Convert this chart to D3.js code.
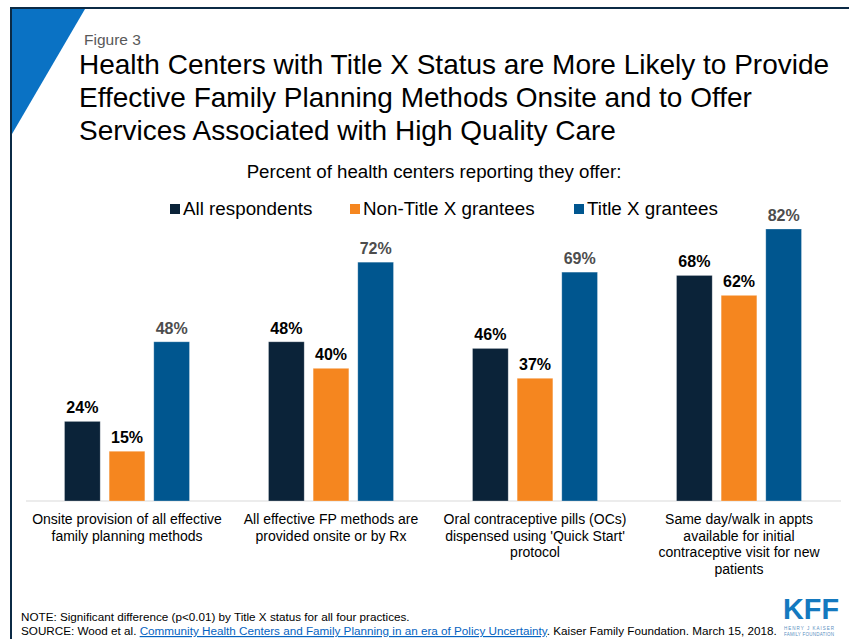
<!DOCTYPE html>
<html>
<head>
<meta charset="utf-8">
<script src="https://cdn.jsdelivr.net/npm/d3@7"></script>
<style>
  body { margin: 0; background: #fff; }
  svg { display: block; font-family: "Liberation Sans", Arial, sans-serif; }
</style>
</head>
<body>
<script>
// datos del gráfico
var categorias = [
  ["Onsite provision of all effective", "family planning methods"],
  ["All effective FP methods are", "provided onsite or by Rx"],
  ["Oral contraceptive pills (OCs)", "dispensed using 'Quick Start'", "protocol"],
  ["Same day/walk in appts", "available for initial", "contraceptive visit for new", "patients"]
];
var series = ["All respondents", "Non-Title X grantees", "Title X grantees"];
var todos = [24, 48, 46, 68];
var noTituloX = [15, 40, 37, 62];
var tituloX = [48, 72, 69, 82];
var valores = [todos, noTituloX, tituloX];

var w = 849, h = 639;
var colores = ["#0b2339", "#f5861f", "#00568f"];
var coloresEtiqueta = ["#000", "#000", "#4d4d4d"];

var svg = d3.select("body").append("svg").attr("width", w).attr("height", h);

// marco y triángulo
svg.append("path").attr("d", "M11,639 V8 H849").attr("fill", "none").attr("stroke", "#0b2a45").attr("stroke-width", 2);
svg.append("path").attr("d", "M12,9 L85,9 L12,134 Z").attr("fill", "#0a72c4");

svg.append("text").attr("x", 84).attr("y", 45).attr("font-size", 15.5).attr("fill", "#595959").text("Figure 3");

var titulo = ["Health Centers with Title X Status are More Likely to Provide",
  "Effective Family Planning Methods Onsite and to Offer",
  "Services Associated with High Quality Care"];
var tituloY = [74, 107, 140];
svg.append("text").attr("x", 79).attr("font-size", 28).attr("fill", "#000")
  .selectAll("tspan").data(titulo).enter().append("tspan")
  .attr("x", 79).attr("y", function (d, i) { return tituloY[i]; }).text(function (d) { return d; });

svg.append("text").attr("x", 434).attr("y", 178).attr("text-anchor", "middle").attr("font-size", 18.7)
  .text("Percent of health centers reporting they offer:");

// leyenda
var leyendaX = [170, 350, 574];
var leyenda = svg.append("g").attr("id", "legend");
series.forEach(function (s, i) {
  leyenda.append("rect").attr("x", leyendaX[i]).attr("y", 204).attr("width", 10).attr("height", 10).attr("fill", colores[i]);
  leyenda.append("text").attr("x", leyendaX[i] + 13).attr("y", 215).attr("font-size", 18.8).text(s);
});

// escalas
var x0 = d3.scaleBand().domain(d3.range(categorias.length)).range([25, 841]);
var x1 = d3.scaleBand().domain(d3.range(series.length)).range([0, 125]).paddingInner(0.2);
var y = d3.scaleLinear().domain([0, 82]).range([501, 229]);

svg.append("line").attr("x1", 26).attr("x2", 841).attr("y1", 501).attr("y2", 501).attr("stroke", "#d9d9d9").attr("stroke-width", 1.2);

var grupos = svg.selectAll("g.grupo").data(categorias).enter().append("g").attr("class", "grupo")
  .attr("transform", function (d, i) { return "translate(" + (x0(i) + x0.bandwidth() / 2 - 62.5) + ",0)"; });

grupos.each(function (c, i) {
  var g = d3.select(this);
  series.forEach(function (s, j) {
    var v = valores[j][i];
    g.append("rect").attr("x", x1(j)).attr("y", y(v)).attr("width", x1.bandwidth()).attr("height", y(0) - y(v))
      .attr("fill", colores[j]).attr("stroke", "#fff").attr("stroke-opacity", 0.35).attr("stroke-width", 0.8);
    g.append("text").attr("x", x1(j) + x1.bandwidth() / 2).attr("y", y(v) - 8).attr("text-anchor", "middle")
      .attr("font-size", 16).attr("font-weight", "bold").attr("fill", coloresEtiqueta[j]).text(v + "%");
  });
  g.append("text").attr("text-anchor", "middle").attr("font-size", 14)
    .selectAll("tspan").data(c).enter().append("tspan")
    .attr("x", 62.5).attr("y", function (d, k) { return 524 + k * 16.5; }).text(function (d) { return d; });
});

// notas
var nota = svg.append("g").attr("font-family", "'Liberation Sans Narrow', 'Arial Narrow', sans-serif").attr("font-size", 11.7).attr("fill", "#000");
nota.append("text").attr("x", 21).attr("y", 621).text("NOTE: Significant difference (p<0.01) by Title X status for all four practices.");
var fuente = nota.append("text").attr("x", 21).attr("y", 635);
fuente.append("tspan").text("SOURCE: Wood et al. ");
fuente.append("tspan").attr("fill", "#0563c1").attr("text-decoration", "underline").text("Community Health Centers and Family Planning in an era of Policy Uncertainty");
fuente.append("tspan").text(". Kaiser Family Foundation. March 15, 2018.");

// logo KFF
svg.append("text").attr("x", 783).attr("y", 619).attr("font-size", 30).attr("font-weight", "bold")
  .attr("fill", "#1479bf").attr("textLength", 56).attr("lengthAdjust", "spacingAndGlyphs").text("KFF");
svg.append("text").attr("x", 784).attr("y", 630).attr("font-size", 4.5).attr("fill", "#5a8fc0")
  .attr("textLength", 50).text("HENRY J KAISER");
svg.append("text").attr("x", 784).attr("y", 636).attr("font-size", 4.5).attr("fill", "#5a8fc0")
  .attr("textLength", 50).text("FAMILY FOUNDATION");
</script>
</body>
</html>
